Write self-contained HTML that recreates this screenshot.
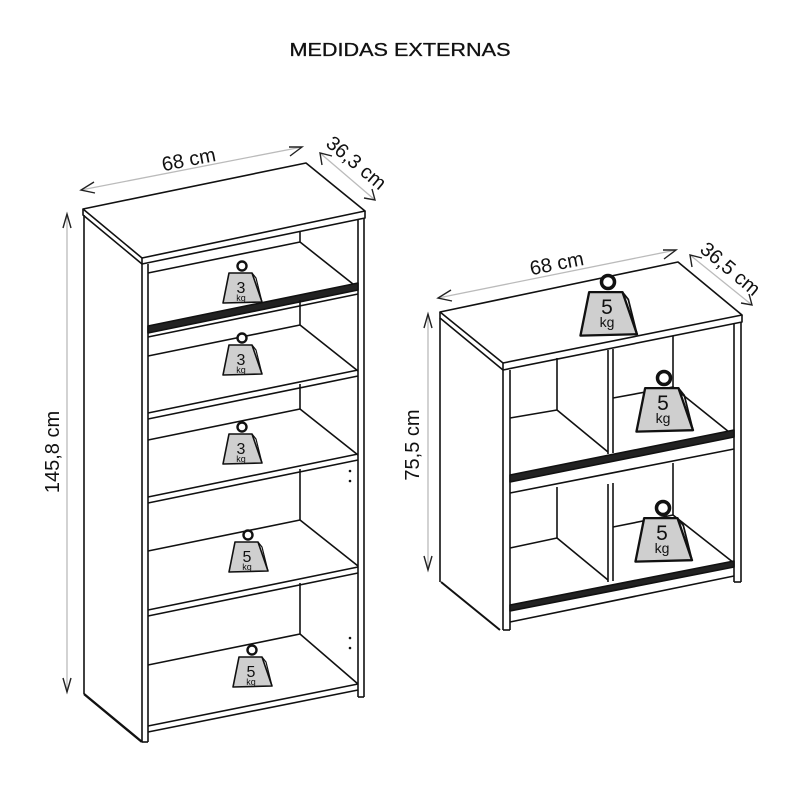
<!DOCTYPE html>
<html><head><meta charset="utf-8"><style>
html,body{margin:0;padding:0;background:#fff;}
svg{display:block;}
text{font-family:"Liberation Sans",sans-serif;fill:#111;}
</style></head><body>
<svg width="800" height="800" viewBox="0 0 800 800" xmlns="http://www.w3.org/2000/svg">
<defs>
<g id="w3">
  <circle cx="0" cy="0" r="4.5" fill="#fff" stroke="#111" stroke-width="2.4"/>
  <polygon points="-13,7 10,7 20,36 -19,37" fill="#cfcfcf" stroke="#111" stroke-width="1.6" stroke-linejoin="round"/>
  <polyline points="10,7 14,12 20,36" fill="none" stroke="#111" stroke-width="1.2"/>
</g>
</defs>
<rect width="800" height="800" fill="#fff"/>
<text x="400" y="56" font-size="18" text-anchor="middle" textLength="221" lengthAdjust="spacingAndGlyphs" stroke="#111" stroke-width="0.3">MEDIDAS EXTERNAS</text>

<!-- ===== LEFT BOOKCASE ===== -->
<g fill="none" stroke="#111" stroke-width="1.6" stroke-linejoin="round">
  <polygon points="83,209 306,163 365,211 142,258" fill="#fff"/>
  <polyline points="83,209 83,215 142,264 365,218 365,211"/>
  <line x1="142" y1="258" x2="142" y2="264"/>
  <line x1="84" y1="215" x2="84" y2="694"/>
  <line x1="84" y1="694" x2="142" y2="742" stroke-width="2.4"/>
  <line x1="142" y1="264" x2="142" y2="742"/>
  <line x1="148" y1="264" x2="148" y2="742"/>
  <line x1="142" y1="742" x2="148" y2="742"/>
  <line x1="358" y1="220" x2="358" y2="697"/>
  <line x1="364" y1="218" x2="364" y2="697"/>
  <line x1="358" y1="697" x2="364" y2="697"/>
  <line x1="300" y1="231" x2="300" y2="242"/>
  <polyline points="148,273 300,242 358,288"/>
  <polygon points="148,326 358,283 358,290 148,333" fill="#222"/>
  <polyline points="148,337 358,294"/>
  <line x1="300" y1="300" x2="300" y2="325"/>
  <polyline points="148,356 300,325 358,371"/>
  <polyline points="148,413 358,370"/>
  <polyline points="148,419 358,376"/>
  <line x1="300" y1="384" x2="300" y2="409"/>
  <polyline points="148,440 300,409 358,455"/>
  <polyline points="148,497 358,454"/>
  <polyline points="148,503 358,460"/>
  <line x1="300" y1="469" x2="300" y2="520"/>
  <polyline points="148,551 300,520 358,566"/>
  <polyline points="148,610 358,567"/>
  <polyline points="148,616 358,573"/>
  <line x1="300" y1="583" x2="300" y2="634"/>
  <polyline points="148,665 300,634 358,684"/>
  <polyline points="148,726 358,684"/>
  <polyline points="148,732 358,690"/>
</g>
<g fill="#111">
  <circle cx="350" cy="471" r="1.3"/><circle cx="350" cy="481" r="1.3"/>
  <circle cx="350" cy="638" r="1.3"/><circle cx="350" cy="648" r="1.3"/>
</g>
<g>
  <use href="#w3" transform="translate(242,266)"/>
  <text x="241" y="293" font-size="16" text-anchor="middle">3</text><text x="241" y="301" font-size="9" text-anchor="middle">kg</text>
  <use href="#w3" transform="translate(242,338)"/>
  <text x="241" y="365" font-size="16" text-anchor="middle">3</text><text x="241" y="373" font-size="9" text-anchor="middle">kg</text>
  <use href="#w3" transform="translate(242,427)"/>
  <text x="241" y="454" font-size="16" text-anchor="middle">3</text><text x="241" y="462" font-size="9" text-anchor="middle">kg</text>
  <use href="#w3" transform="translate(248,535)"/>
  <text x="247" y="562" font-size="16" text-anchor="middle">5</text><text x="247" y="570" font-size="9" text-anchor="middle">kg</text>
  <use href="#w3" transform="translate(252,650)"/>
  <text x="251" y="677" font-size="16" text-anchor="middle">5</text><text x="251" y="685" font-size="9" text-anchor="middle">kg</text>
</g>

<g stroke="#bbb" stroke-width="1.3" fill="none">
  <line x1="81" y1="190" x2="302" y2="147"/>
  <line x1="320" y1="153" x2="375" y2="200"/>
  <line x1="67" y1="214" x2="67" y2="692"/>
</g>
<g stroke="#222" stroke-width="1.4" fill="none">
  <polyline points="94,182 81,190 95,193"/>
  <polyline points="289,147 302,147 290,156"/>
  <polyline points="322,165 320,153 332,156"/>
  <polyline points="364,198 375,200 372,189"/>
  <polyline points="63,228 67,214 71,228"/>
  <polyline points="63,678 67,692 71,678"/>
</g>
<text x="190" y="166" font-size="20" text-anchor="middle" transform="rotate(-11 190 166)">68 cm</text>
<text x="352" y="168" font-size="20" text-anchor="middle" transform="rotate(40 352 168)">36,3 cm</text>
<text x="59" y="452" font-size="20" text-anchor="middle" transform="rotate(-90 59 452)">145,8 cm</text>

<!-- ===== RIGHT CABINET ===== -->
<g fill="none" stroke="#111" stroke-width="1.6" stroke-linejoin="round">
  <polygon points="440,312 678,262 742,315 503,363" fill="#fff"/>
  <polyline points="440,312 440,318 503,370 742,322 742,315"/>
  <line x1="503" y1="363" x2="503" y2="370"/>
  <line x1="440" y1="318" x2="440" y2="582"/>
  <line x1="441" y1="582" x2="500" y2="630" stroke-width="2"/>
  <line x1="503" y1="370" x2="503" y2="630"/>
  <line x1="510" y1="370" x2="510" y2="630"/>
  <line x1="503" y1="630" x2="510" y2="630"/>
  <line x1="734" y1="323" x2="734" y2="582"/>
  <line x1="741" y1="322" x2="741" y2="582"/>
  <line x1="734" y1="582" x2="741" y2="582"/>
  <line x1="557" y1="358" x2="557" y2="410"/>
  <polyline points="510,418 557,410 608,452"/>
  <line x1="608" y1="350" x2="608" y2="454"/>
  <line x1="613" y1="349" x2="613" y2="453"/>
  <line x1="673" y1="336" x2="673" y2="387"/>
  <polyline points="613,398 673,387 734,436"/>
  <polygon points="510,475 734,430 734,437 510,482" fill="#222"/>
  <polyline points="510,493 734,449"/>
  <line x1="557" y1="487" x2="557" y2="538"/>
  <polyline points="510,548 557,538 608,580"/>
  <line x1="608" y1="484" x2="608" y2="582"/>
  <line x1="613" y1="483" x2="613" y2="581"/>
  <line x1="673" y1="463" x2="673" y2="515"/>
  <polyline points="613,527 673,515 734,563"/>
  <polygon points="510,605 734,561 734,567 510,611" fill="#222"/>
  <polyline points="510,622 734,576"/>
</g>
<g>
  <use href="#w3" transform="translate(608,282) scale(1.45)"/>
  <text x="607" y="314" font-size="21" text-anchor="middle">5</text><text x="607" y="327" font-size="14" text-anchor="middle">kg</text>
  <use href="#w3" transform="translate(664,378) scale(1.45)"/>
  <text x="663" y="410" font-size="21" text-anchor="middle">5</text><text x="663" y="423" font-size="14" text-anchor="middle">kg</text>
  <use href="#w3" transform="translate(663,508) scale(1.45)"/>
  <text x="662" y="540" font-size="21" text-anchor="middle">5</text><text x="662" y="553" font-size="14" text-anchor="middle">kg</text>
</g>
<g stroke="#bbb" stroke-width="1.3" fill="none">
  <line x1="438" y1="298" x2="676" y2="250"/>
  <line x1="690" y1="255" x2="752" y2="305"/>
  <line x1="428" y1="314" x2="428" y2="570"/>
</g>
<g stroke="#222" stroke-width="1.4" fill="none">
  <polyline points="451,290 438,298 452,301"/>
  <polyline points="663,250 676,250 664,259"/>
  <polyline points="692,267 690,255 702,258"/>
  <polyline points="741,303 752,305 749,294"/>
  <polyline points="424,328 428,314 432,328"/>
  <polyline points="424,556 428,570 432,556"/>
</g>
<text x="558" y="270" font-size="20" text-anchor="middle" transform="rotate(-11 558 270)">68 cm</text>
<text x="726" y="274" font-size="20" text-anchor="middle" transform="rotate(40 726 274)">36,5 cm</text>
<text x="419" y="445" font-size="20" text-anchor="middle" transform="rotate(-90 419 445)">75,5 cm</text>
</svg>
</body></html>
